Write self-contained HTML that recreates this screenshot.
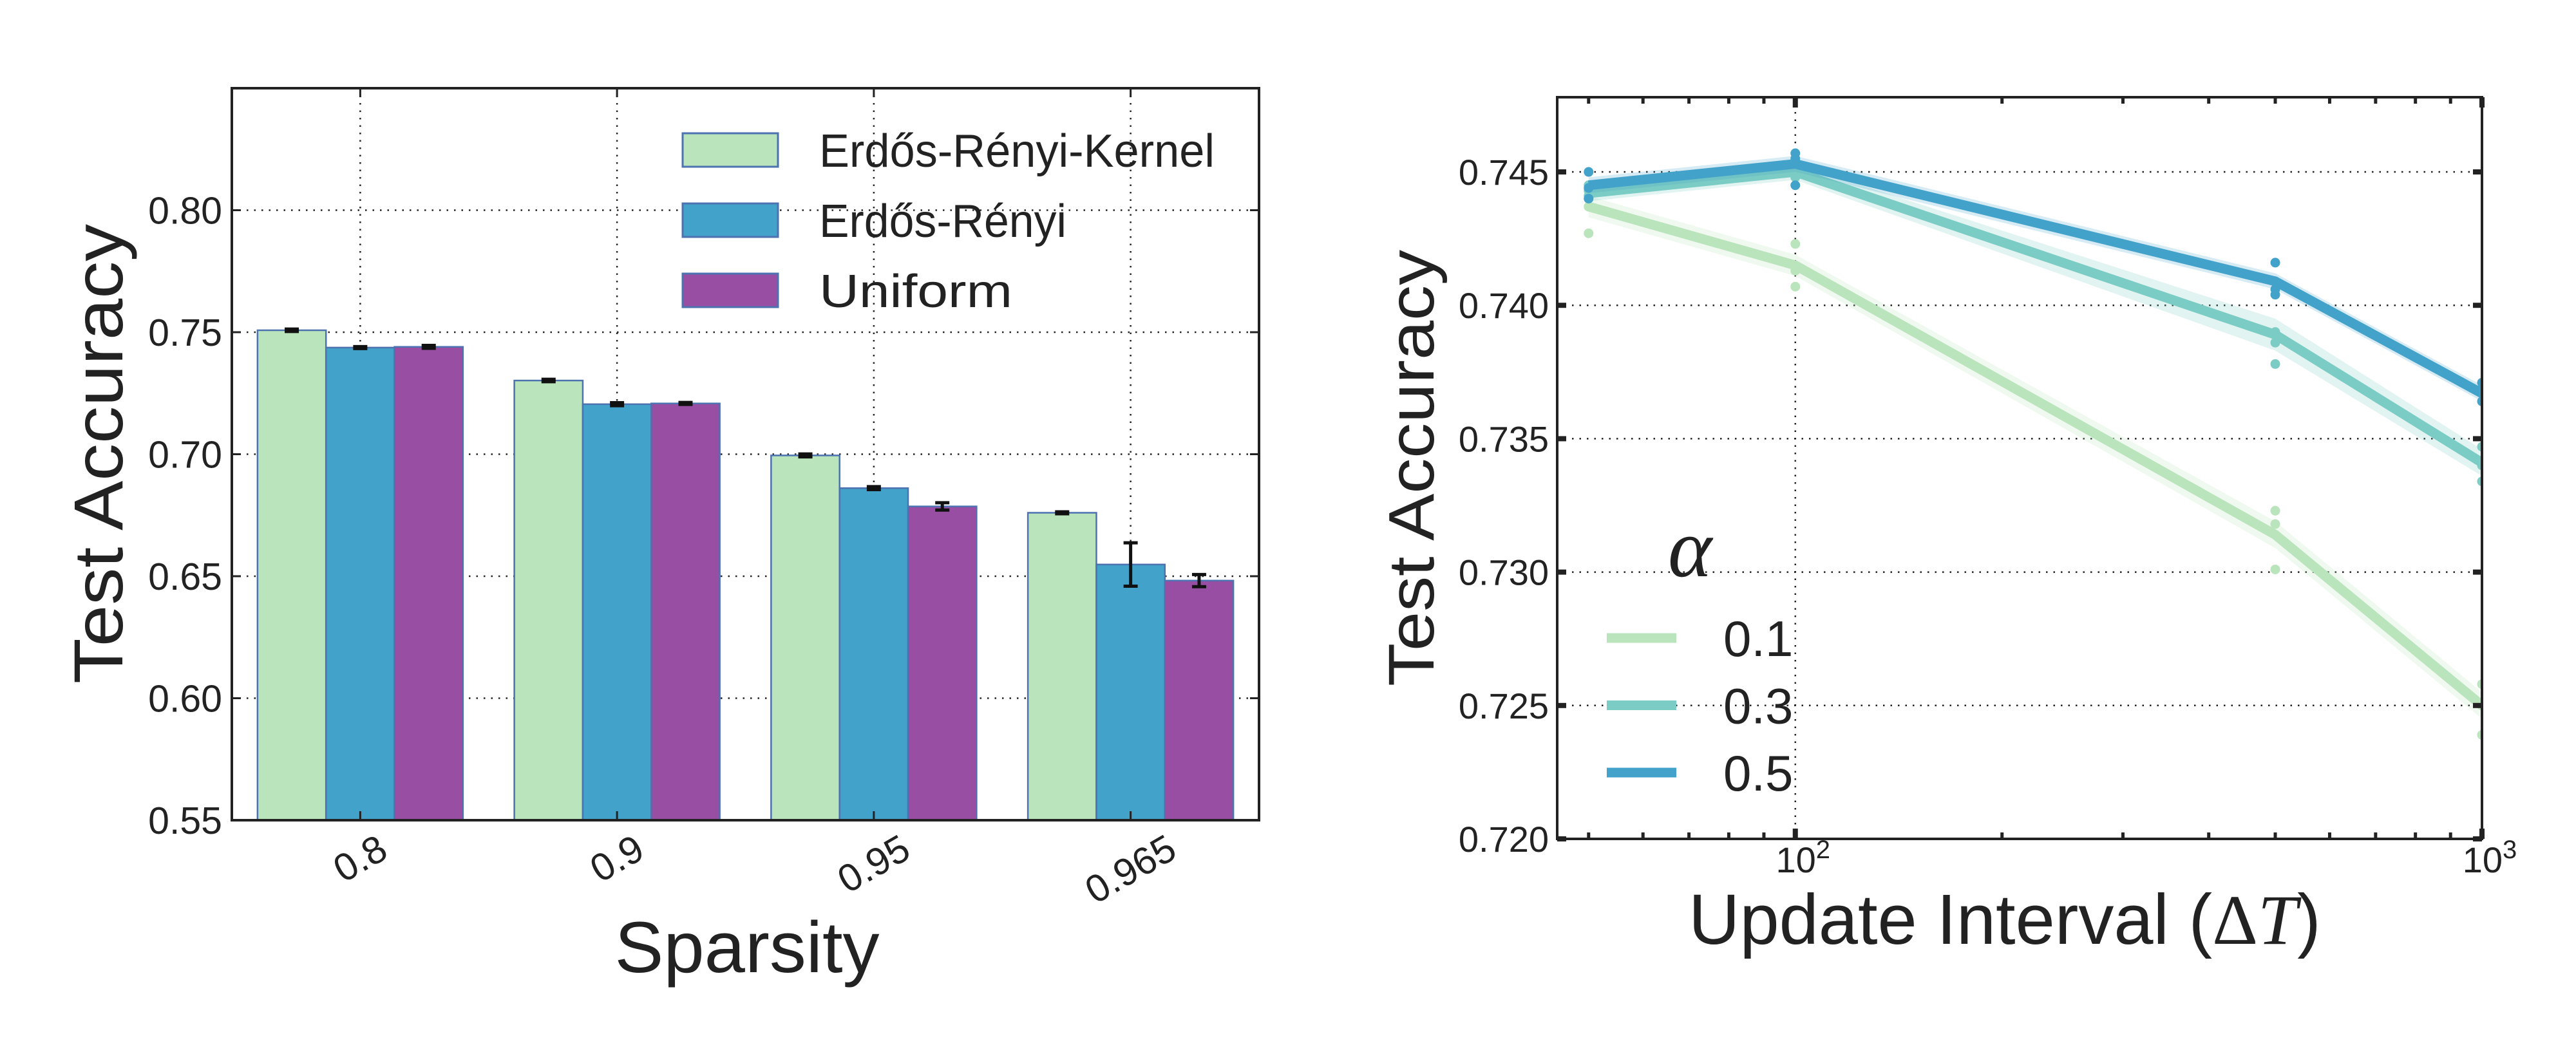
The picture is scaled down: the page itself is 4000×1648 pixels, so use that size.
<!DOCTYPE html>
<html><head><meta charset="utf-8">
<style>
html,body{margin:0;padding:0;background:#fff;}
svg{display:block;font-family:"Liberation Sans",sans-serif;}
</style></head>
<body>
<svg id="fig" width="4000" height="1648" viewBox="0 0 4000 1648" xmlns="http://www.w3.org/2000/svg">
<rect x="0" y="0" width="4000" height="1648" fill="#fff"/>
<g id="left"></g>
<g id="right"></g>
</svg>
<script>
// ---------- Left chart data ----------
const barCategories = ["0.8", "0.9", "0.95", "0.965"];
const barSeriesNames = ["Erdős-Rényi-Kernel", "Erdős-Rényi", "Uniform"];
const ercValues = [0.7508, 0.7302, 0.6995, 0.6760];
const ercErrors = [0.0005, 0.0005, 0.0006, 0.0004];
const erValues = [0.7437, 0.7205, 0.6861, 0.6548];
const erErrors = [0.0004, 0.0006, 0.0006, 0.0089];
const uniValues = [0.7440, 0.7208, 0.6786, 0.6482];
const uniErrors = [0.0006, 0.0004, 0.0015, 0.0025];
const barYTicks = [0.55, 0.60, 0.65, 0.70, 0.75, 0.80];
const barYTickLabels = ["0.55", "0.60", "0.65", "0.70", "0.75", "0.80"];

// ---------- Right chart data ----------
const intervals = [50, 100, 500, 1000];
const alphaLabels = ["0.1", "0.3", "0.5"];
const meanA01 = [0.7437, 0.7415, 0.7314, 0.7250];
const meanA03 = [0.7442, 0.7450, 0.7389, 0.7341];
const meanA05 = [0.7445, 0.7453, 0.7409, 0.7367];
const ciA01 = [0.0004, 0.0004, 0.0005, 0.0005];
const ciA03 = [0.0003, 0.0003, 0.0006, 0.0005];
const ciA05 = [0.0003, 0.0003, 0.0003, 0.0003];
const ptsA01 = [[0.7427, 0.7437, 0.7440], [0.7423, 0.7413, 0.7407], [0.7323, 0.7318, 0.7301], [0.7258, 0.7250, 0.7239]];
const ptsA03 = [[0.7443, 0.7441, 0.7445], [0.7452, 0.7448, 0.7450], [0.7386, 0.7378, 0.7390], [0.7347, 0.7334, 0.7340]];
const ptsA05 = [[0.7450, 0.7444, 0.7440], [0.7457, 0.7455, 0.7445], [0.7416, 0.7404, 0.7406], [0.7371, 0.7367, 0.7364]];
const lineYTicks = [0.720, 0.725, 0.730, 0.735, 0.740, 0.745];
const lineYTickLabels = ["0.720", "0.725", "0.730", "0.735", "0.740", "0.745"];

const NS = "http://www.w3.org/2000/svg";
function mk(parent, tag, attrs, text) {
  const e = document.createElementNS(NS, tag);
  for (const k in attrs) e.setAttribute(k, attrs[k]);
  if (text !== undefined) e.textContent = text;
  parent.appendChild(e);
  return e;
}

// ================= LEFT =================
(function(){
  const g = document.getElementById('left');
  const X0 = 360, X1 = 1955, Y0 = 137, Y1 = 1274;
  const ymin = 0.55, ymax = 0.85;
  const y = v => Y1 - (v - ymin) / (ymax - ymin) * (Y1 - Y0);
  const step = (X1 - X0) / barCategories.length;
  const xc = i => X0 + step * (i + 0.5);
  const bw = step * 0.8 / 3;
  const colors = ["#bae4bc", "#43a2ca", "#984ea3"];
  const vals = [ercValues, erValues, uniValues];
  const errs = [ercErrors, erErrors, uniErrors];
  const names = ["bar-erdos-renyi-kernel", "bar-erdos-renyi", "bar-uniform"];

  barYTicks.forEach((t, i) => {
    const l = mk(g, 'line', {x1: X0, x2: X1, y1: y(t), y2: y(t), stroke: '#222', 'stroke-width': 2.5, 'stroke-dasharray': '2.5 9'});
    
    
  });
  barCategories.forEach((c, i) => {
    const l = mk(g, 'line', {x1: xc(i), x2: xc(i), y1: Y0, y2: Y1, stroke: '#222', 'stroke-width': 2.5, 'stroke-dasharray': '2.5 9'});
    
    
  });

  for (let s = 0; s < 3; s++) {
    for (let i = 0; i < barCategories.length; i++) {
      const bx = xc(i) + (s - 1.5) * bw;
      const r = mk(g, 'rect', {x: bx, y: y(vals[s][i]), width: bw, height: Y1 - y(vals[s][i]), fill: colors[s], stroke: '#4c72b0', 'stroke-width': 2.5});
      
      
      const cx = bx + bw / 2;
      const e = errs[s][i];
      const eb = mk(g, 'g', {stroke: '#111', 'stroke-width': 5});
      
      
      mk(eb, 'line', {x1: cx, x2: cx, y1: y(vals[s][i] + e), y2: y(vals[s][i] - e)});
      mk(eb, 'line', {x1: cx - 11, x2: cx + 11, y1: y(vals[s][i] + e), y2: y(vals[s][i] + e)});
      mk(eb, 'line', {x1: cx - 11, x2: cx + 11, y1: y(vals[s][i] - e), y2: y(vals[s][i] - e)});
    }
  }

  barCategories.forEach((c, i) => {
    mk(g, 'line', {x1: xc(i), x2: xc(i), y1: Y1, y2: Y1 - 14, stroke: '#222', 'stroke-width': 3});
    mk(g, 'line', {x1: xc(i), x2: xc(i), y1: Y0, y2: Y0 + 14, stroke: '#222', 'stroke-width': 3});
  });
  barYTicks.forEach(t => {
    mk(g, 'line', {x1: X0, x2: X0 + 14, y1: y(t), y2: y(t), stroke: '#222', 'stroke-width': 3});
    mk(g, 'line', {x1: X1, x2: X1 - 14, y1: y(t), y2: y(t), stroke: '#222', 'stroke-width': 3});
  });
  const fr = mk(g, 'rect', {x: X0, y: Y0, width: X1 - X0, height: Y1 - Y0, fill: 'none', stroke: '#222', 'stroke-width': 4});
  
  

  barYTicks.forEach((t, i) => {
    const tl = mk(g, 'text', {x: 345, y: y(t) + 21, 'text-anchor': 'end', 'font-size': 59, fill: '#222'}, barYTickLabels[i]);
    
    
  });
  barCategories.forEach((c, i) => {
    const w = c.length * 0.55 * 60;
    const cy = 1290 + (w * 0.5 + 44 * 0.866) / 2;
    const tl = mk(g, 'text', {x: xc(i), y: cy + 20, 'text-anchor': 'middle', 'font-size': 60, fill: '#222', transform: `rotate(-30 ${xc(i)} ${cy})`}, c);
    
    
  });
  const yt = mk(g, 'text', {x: 0, y: 0, 'text-anchor': 'middle', 'font-size': 108, fill: '#222', textLength: 714, lengthAdjust: 'spacingAndGlyphs', transform: 'translate(190 705) rotate(-90)'}, 'Test Accuracy');
  
  
  const xt = mk(g, 'text', {x: 1160, y: 1510, 'text-anchor': 'middle', 'font-size': 112, fill: '#222', textLength: 411, lengthAdjust: 'spacingAndGlyphs'}, 'Sparsity');
  
  

  const lg = mk(g, 'g', {});
  
  
  const lens = [614, 384, 300];
  barSeriesNames.forEach((n, s) => {
    const top = 207 + s * 109;
    const item = mk(lg, 'g', {});
    
    
    mk(item, 'rect', {x: 1060, y: top, width: 148, height: 52, fill: colors[s], stroke: '#4c72b0', 'stroke-width': 3});
    mk(item, 'text', {x: 1272, y: top + 52, 'font-size': 72, fill: '#222', textLength: lens[s], lengthAdjust: 'spacingAndGlyphs'}, n);
  });
})();

// ================= RIGHT =================
(function(){
  const g = document.getElementById('right');
  const X0 = 2418, X1 = 3854, Y0 = 151, Y1 = 1303;
  const xmin = 45, xmax = 1000, ymin = 0.720, ymax = 0.7478;
  const x = v => X0 + (Math.log10(v) - Math.log10(xmin)) / (Math.log10(xmax) - Math.log10(xmin)) * (X1 - X0);
  const y = v => Y1 - (v - ymin) / (ymax - ymin) * (Y1 - Y0);
  const colors = ["#bae4bc", "#7bccc4", "#43a2ca"];
  const means = [meanA01, meanA03, meanA05];
  const cis = [ciA01, ciA03, ciA05];
  const pts = [ptsA01, ptsA03, ptsA05];

  lineYTicks.forEach(t => {
    const l = mk(g, 'line', {x1: X0, x2: X1, y1: y(t), y2: y(t), stroke: '#222', 'stroke-width': 2.5, 'stroke-dasharray': '2.5 9'});
    
    
  });
  [100, 1000].forEach(v => {
    const l = mk(g, 'line', {x1: x(v), x2: x(v), y1: Y0, y2: Y1, stroke: '#222', 'stroke-width': 2.5, 'stroke-dasharray': '2.5 9'});
    
    
  });

  for (let s = 0; s < 3; s++) {
    let d = '';
    intervals.forEach((v, i) => { d += (i ? 'L' : 'M') + x(v) + ' ' + y(means[s][i] + cis[s][i]) + ' '; });
    for (let i = intervals.length - 1; i >= 0; i--) d += 'L' + x(intervals[i]) + ' ' + y(means[s][i] - cis[s][i]) + ' ';
    const band = mk(g, 'path', {d: d + 'Z', fill: colors[s], opacity: 0.22});
    
    
    pts[s].forEach((arr, i) => arr.forEach(p => {
      const c = mk(g, 'circle', {cx: x(intervals[i]), cy: y(p), r: 7.5, fill: colors[s]});
      
      
    }));
    const pl = mk(g, 'polyline', {points: intervals.map((v, i) => x(v) + ',' + y(means[s][i])).join(' '), fill: 'none', stroke: colors[s], 'stroke-width': 15, 'stroke-linejoin': 'miter'});
    
    
  }

  mk(g, 'rect', {x: X1 + 2, y: Y0 - 10, width: 40, height: Y1 - Y0 + 20, fill: '#fff'});

  const minors = [50, 60, 70, 80, 90, 200, 300, 400, 500, 600, 700, 800, 900];
  minors.forEach(v => {
    mk(g, 'line', {x1: x(v), x2: x(v), y1: Y1, y2: Y1 - 10, stroke: '#222', 'stroke-width': 5});
    mk(g, 'line', {x1: x(v), x2: x(v), y1: Y0, y2: Y0 + 10, stroke: '#222', 'stroke-width': 5});
  });
  [100, 1000].forEach(v => {
    mk(g, 'line', {x1: x(v), x2: x(v), y1: Y1, y2: Y1 - 16, stroke: '#222', 'stroke-width': 8});
    mk(g, 'line', {x1: x(v), x2: x(v), y1: Y0, y2: Y0 + 16, stroke: '#222', 'stroke-width': 8});
  });
  lineYTicks.forEach(t => {
    mk(g, 'line', {x1: X0, x2: X0 + 14, y1: y(t), y2: y(t), stroke: '#222', 'stroke-width': 8});
    mk(g, 'line', {x1: X1, x2: X1 - 14, y1: y(t), y2: y(t), stroke: '#222', 'stroke-width': 8});
  });
  const fr = mk(g, 'rect', {x: X0, y: Y0, width: X1 - X0, height: Y1 - Y0, fill: 'none', stroke: '#222', 'stroke-width': 4});
  
  

  lineYTicks.forEach((t, i) => {
    const tl = mk(g, 'text', {x: 2405, y: y(t) + 20, 'text-anchor': 'end', 'font-size': 56, fill: '#222'}, lineYTickLabels[i]);
    
    
  });
  [[100, '2'], [1000, '3']].forEach(([v, e]) => {
    const tl = mk(g, 'text', {x: x(v) + 12, y: 1355, 'text-anchor': 'middle', 'font-size': 56, fill: '#222'});
    
    
    mk(tl, 'tspan', {}, '10');
    mk(tl, 'tspan', {dy: -22, 'font-size': 40}, e);
  });

  const yt = mk(g, 'text', {x: 0, y: 0, 'text-anchor': 'middle', 'font-size': 100, fill: '#222', textLength: 678, lengthAdjust: 'spacingAndGlyphs', transform: 'translate(2226 727) rotate(-90)'}, 'Test Accuracy');
  
  
  const xt = mk(g, 'text', {x: 2622, y: 1466, 'font-size': 110, fill: '#222'});
  
  
  mk(xt, 'tspan', {}, 'Update Interval (');
  mk(xt, 'tspan', {'font-family': '"Liberation Serif", serif'}, 'Δ');
  mk(xt, 'tspan', {'font-family': '"Liberation Serif", serif', 'font-style': 'italic'}, 'T');
  mk(xt, 'tspan', {}, ')');

  const lg = mk(g, 'g', {});
  
  
  const at = mk(lg, 'text', {x: 2590, y: 895, 'font-size': 130, 'font-style': 'italic', 'font-family': '"Liberation Serif", serif', fill: '#222'}, 'α');
  
  
  alphaLabels.forEach((a, s) => {
    const cy = 991 + s * 104.5;
    const item = mk(lg, 'g', {});
    
    
    mk(item, 'line', {x1: 2495, x2: 2603, y1: cy, y2: cy, stroke: colors[s], 'stroke-width': 15});
    mk(item, 'text', {x: 2676, y: cy + 28, 'font-size': 78, fill: '#222'}, a);
  });
})();
</script>
</body></html>
